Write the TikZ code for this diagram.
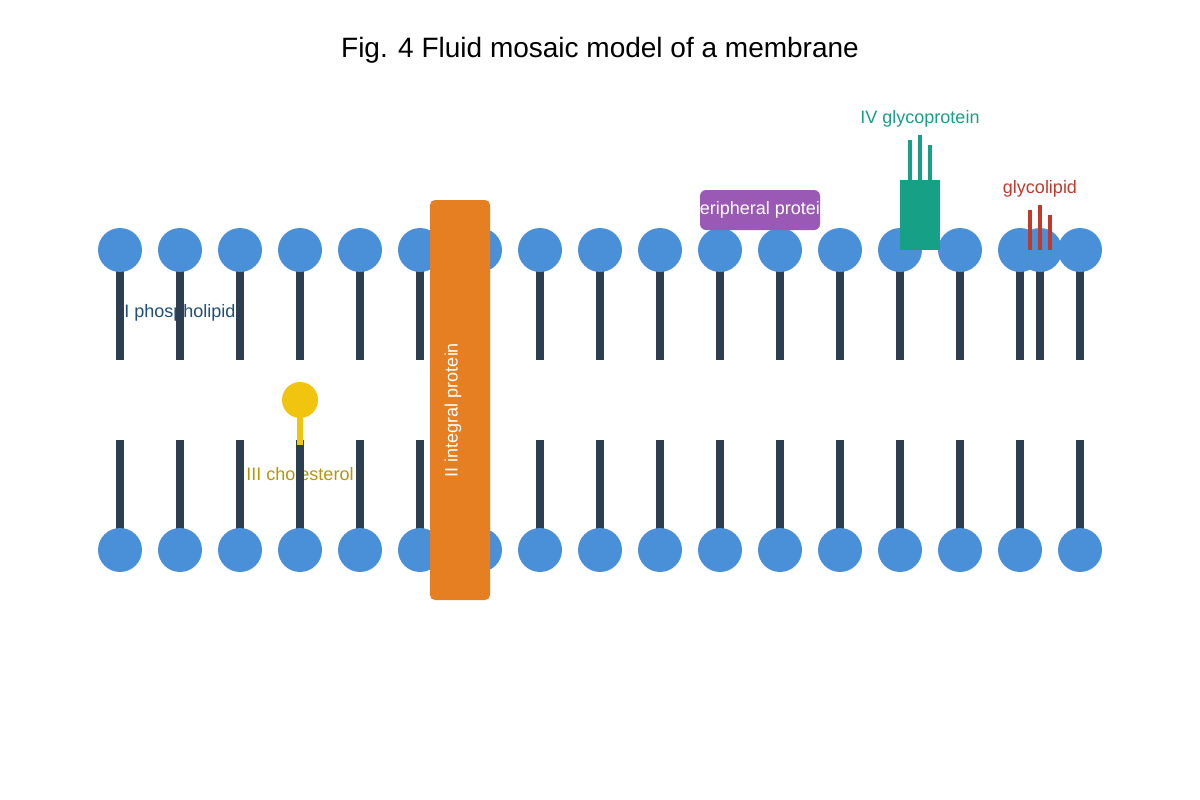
\documentclass[tikz,border=0pt]{standalone}
\usepackage{fontspec}
\setmainfont{Liberation Sans}
\begin{document}
\begin{tikzpicture}[x=1pt,y=-1pt,
  head/.style={circle,fill=headblue,minimum size=44pt,inner sep=0pt},
  tail/.style={draw=tailgray,line width=8pt},
  lab/.style={font=\fontsize{18}{20}\selectfont}]
\definecolor{headblue}{HTML}{4A90D9}
\definecolor{tailgray}{HTML}{2C3E50}
\definecolor{orng}{HTML}{E67E22}
\definecolor{purp}{HTML}{9B59B6}
\definecolor{grn}{HTML}{16A085}
\definecolor{rd}{HTML}{C0392B}
\definecolor{ylw}{HTML}{F1C40F}
\definecolor{olv}{HTML}{B7950B}
\definecolor{dblue}{HTML}{1F4E79}
\useasboundingbox (0,0) rectangle (1200,800);
\node (title) at (600,50) {\fontsize{28}{32}\selectfont Fig. 4 Fluid mosaic model of a membrane};
\node[lab,text=dblue] (lphos) at (180,313) {I phospholipid};
\node[lab,text=olv] (lchol) at (300,474) {III cholesterol};
\foreach \i in {0,...,16}{
  \pgfmathsetmacro{\xx}{120+60*\i}
  \draw[tail] (\xx,250) -- (\xx,360);
  \draw[tail] (\xx,440) -- (\xx,550);
  \node[head] (t\i) at (\xx,250) {};
  \node[head] (b\i) at (\xx,550) {};
}
% glycolipid
\draw[tail] (1040,250) -- (1040,360);
\node[head] (gl) at (1040,250) {};
\foreach \x/\y in {1030/210,1040/205,1050/215}
  \draw[rd,line width=4pt] (\x,\y) -- (\x,250);
\node[lab,text=rd] (lgl) at (1040,189) {glycolipid};
% cholesterol
\draw[ylw,line width=6pt] (300,410) -- (300,445);
\node[circle,fill=ylw,minimum size=36pt,inner sep=0pt] (chol) at (300,400) {};
% integral protein
\node[fill=orng,rounded corners=5pt,minimum width=60pt,minimum height=400pt,inner sep=0pt] (ip) at (460,400) {};
\node[rotate=90,text=white,lab] (lip) at (453,410) {II integral protein};
% peripheral
\begin{scope}
\path[fill=purp,rounded corners=6pt] (700,190) rectangle (820,230);
\clip (700,190) rectangle (820,230);
\node[text=white,lab] (lpp) at (760,210) {peripheral protein};
\end{scope}
% glycoprotein
\node[fill=grn,minimum width=40pt,minimum height=70pt,inner sep=0pt] (gp) at (920,215) {};
\foreach \x/\y in {910/140,920/135,930/145}
  \draw[grn,line width=4pt] (\x,\y) -- (\x,180);
\node[lab,text=grn] (lgp) at (920,119) {IV glycoprotein};
\end{tikzpicture}
\end{document}
